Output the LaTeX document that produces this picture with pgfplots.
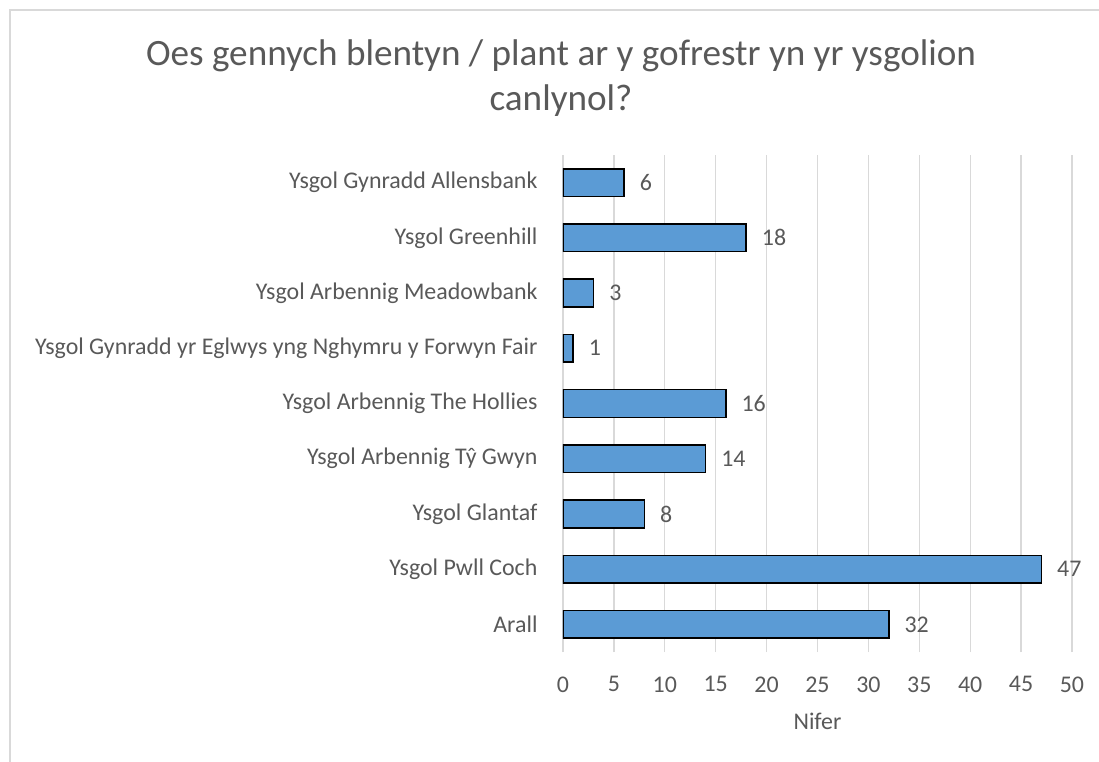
\documentclass[border=0pt]{standalone}
\usepackage{pgfplots}
\pgfplotsset{compat=1.18}
\usepackage{fontspec}
\setmainfont{Carlito}
\definecolor{barblue}{HTML}{5B9BD5}
\definecolor{txt}{HTML}{595959}
\definecolor{gridc}{HTML}{D9D9D9}
\begin{document}
\begin{tikzpicture}
\begin{scope}[x=1bp,y=1bp,shift={(-563bp,-110bp)}]
\fill[white] (0,0) rectangle (1099,762);
\draw[gridc, line width=1.5bp] (10,0) -- (10,752) -- (1099,752);
\node[txt, font=\fontsize{37.3}{45}\selectfont, anchor=base] at (561,697) {Oes gennych blentyn / plant ar y gofrestr yn yr ysgolion};
\node[txt, font=\fontsize{37.3}{45}\selectfont, anchor=base] at (561,652) {canlynol?};
\end{scope}
\begin{axis}[scale only axis,
  width=509bp, height=497bp,
  xbar, xmin=0, xmax=50, ymin=-0.5, ymax=8.5, bar width=0.5,
  xtick={0,5,...,50}, ytick={0,...,8},
  yticklabels={Arall, Ysgol Pwll Coch, Ysgol Glantaf, Ysgol Arbennig Tŷ Gwyn\ , Ysgol Arbennig The Hollies, Ysgol Gynradd yr Eglwys yng Nghymru y Forwyn Fair, Ysgol Arbennig Meadowbank, Ysgol Greenhill\ , Ysgol Gynradd Allensbank},
  axis line style={draw=none}, major tick length=0,
  xmajorgrids, grid style={gridc, line width=1.3bp},
  tick label style={txt, font=\fontsize{24}{29}\selectfont},
  /pgf/number format/assume math mode=true,
  yticklabel style={xshift=-22bp},
  xticklabel style={yshift=-21bp},
  xlabel={Nifer}, xlabel style={txt, font=\fontsize{24}{29}\selectfont, yshift=-14bp},
  nodes near coords,
  nodes near coords style={txt, font=\fontsize{24}{29}\selectfont, anchor=west, inner sep=0pt, xshift=15bp},
]
\addplot[fill=barblue, draw=black, line width=1.5bp] coordinates {(32,0) (47,1) (8,2) (14,3) (16,4) (1,5) (3,6) (18,7) (6,8)};
\end{axis}
\pgfresetboundingbox
\useasboundingbox (-563bp,-110bp) rectangle (536bp,652bp);
\end{tikzpicture}
\end{document}
